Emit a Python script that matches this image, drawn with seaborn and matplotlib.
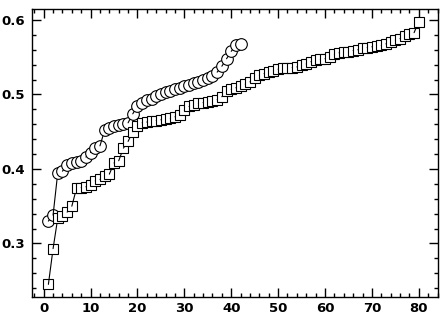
import numpy as np
import pandas as pd
import matplotlib
matplotlib.use("Agg")
import matplotlib.pyplot as plt
import seaborn as sns
from matplotlib.ticker import MultipleLocator

# ---- data ----
circle_y = [0.330, 0.338, 0.395, 0.397, 0.405, 0.408, 0.410, 0.411, 0.416, 0.422,
            0.428, 0.431, 0.452, 0.455, 0.458, 0.459, 0.460, 0.462, 0.474, 0.485,
            0.489, 0.492, 0.494, 0.498, 0.501, 0.503, 0.505, 0.507, 0.509, 0.511,
            0.513, 0.515, 0.517, 0.519, 0.522, 0.525, 0.530, 0.538, 0.548, 0.558,
            0.566, 0.568]
circle_x = list(range(1, len(circle_y) + 1))

square_y = [0.245, 0.293, 0.334, 0.337, 0.342, 0.350, 0.374, 0.375, 0.376, 0.379,
            0.384, 0.386, 0.390, 0.393, 0.408, 0.411, 0.428, 0.437, 0.450, 0.458,
            0.462, 0.463, 0.464, 0.465, 0.466, 0.467, 0.468, 0.470, 0.472, 0.479,
            0.484, 0.486, 0.488, 0.489, 0.490, 0.491, 0.493, 0.497, 0.505, 0.507,
            0.509, 0.512, 0.514, 0.517, 0.522, 0.526, 0.528, 0.530, 0.532, 0.534,
            0.535, 0.535, 0.536, 0.537, 0.539, 0.541, 0.544, 0.546, 0.547, 0.548,
            0.551, 0.554, 0.556, 0.557, 0.557, 0.559, 0.560, 0.562, 0.563, 0.564,
            0.565, 0.566, 0.568, 0.570, 0.573, 0.575, 0.579, 0.581, 0.583, 0.598]
square_x = list(range(1, len(square_y) + 1))

x_ticks = [0, 10, 20, 30, 40, 50, 60, 70, 80]
y_ticks = [0.3, 0.4, 0.5, 0.6]

sns.set_style("white")
plt.rcParams['font.family'] = ['Liberation Sans Narrow', 'DejaVu Sans']
plt.rcParams['font.weight'] = 'bold'

fig = plt.figure(figsize=(4.46, 3.17), dpi=100)
ax = fig.add_axes([0.0717, 0.063, 0.9093, 0.9086])


def draw_series(xs, ys, marker, msize):
    z = 2
    for i in range(len(xs)):
        if i > 0:
            seg = pd.DataFrame({"x": xs[i - 1:i + 1], "y": ys[i - 1:i + 1]})
            sns.lineplot(data=seg, x="x", y="y", ax=ax, color="black",
                         linewidth=0.8, zorder=z, estimator=None, sort=False)
            z += 1
        ax.plot([xs[i]], [ys[i]], linestyle="none", marker=marker,
                markersize=msize, markerfacecolor="white",
                markeredgecolor="black", markeredgewidth=0.8, zorder=z)
        z += 1


draw_series(circle_x, circle_y, "o", 8.4)
draw_series(square_x, square_y, "s", 7.6)

ax.set_xlim(-2.5, 84)
ax.set_ylim(0.228, 0.6148)
ax.set_xticks(x_ticks)
ax.set_yticks(y_ticks)
ax.set_yticklabels([f"{v:.1f}" for v in y_ticks])
ax.xaxis.set_minor_locator(MultipleLocator(2))
ax.yaxis.set_minor_locator(MultipleLocator(0.02))
ax.set_xlabel("")
ax.set_ylabel("")

for sp in ax.spines.values():
    sp.set_visible(True)
    sp.set_color("black")
    sp.set_linewidth(1.0)

ax.tick_params(which="both", direction="in", top=True, right=True,
               bottom=True, left=True, colors="black", width=1.0)
ax.tick_params(which="major", length=6.5)
ax.tick_params(which="minor", length=3.2)
ax.tick_params(axis="x", which="major", pad=3.5, labelsize=9.5)
ax.tick_params(axis="y", which="major", pad=5, labelsize=9.5)
for lab in ax.get_xticklabels() + ax.get_yticklabels():
    lab.set_fontweight("bold")

fig.savefig("out.png", dpi=100)
